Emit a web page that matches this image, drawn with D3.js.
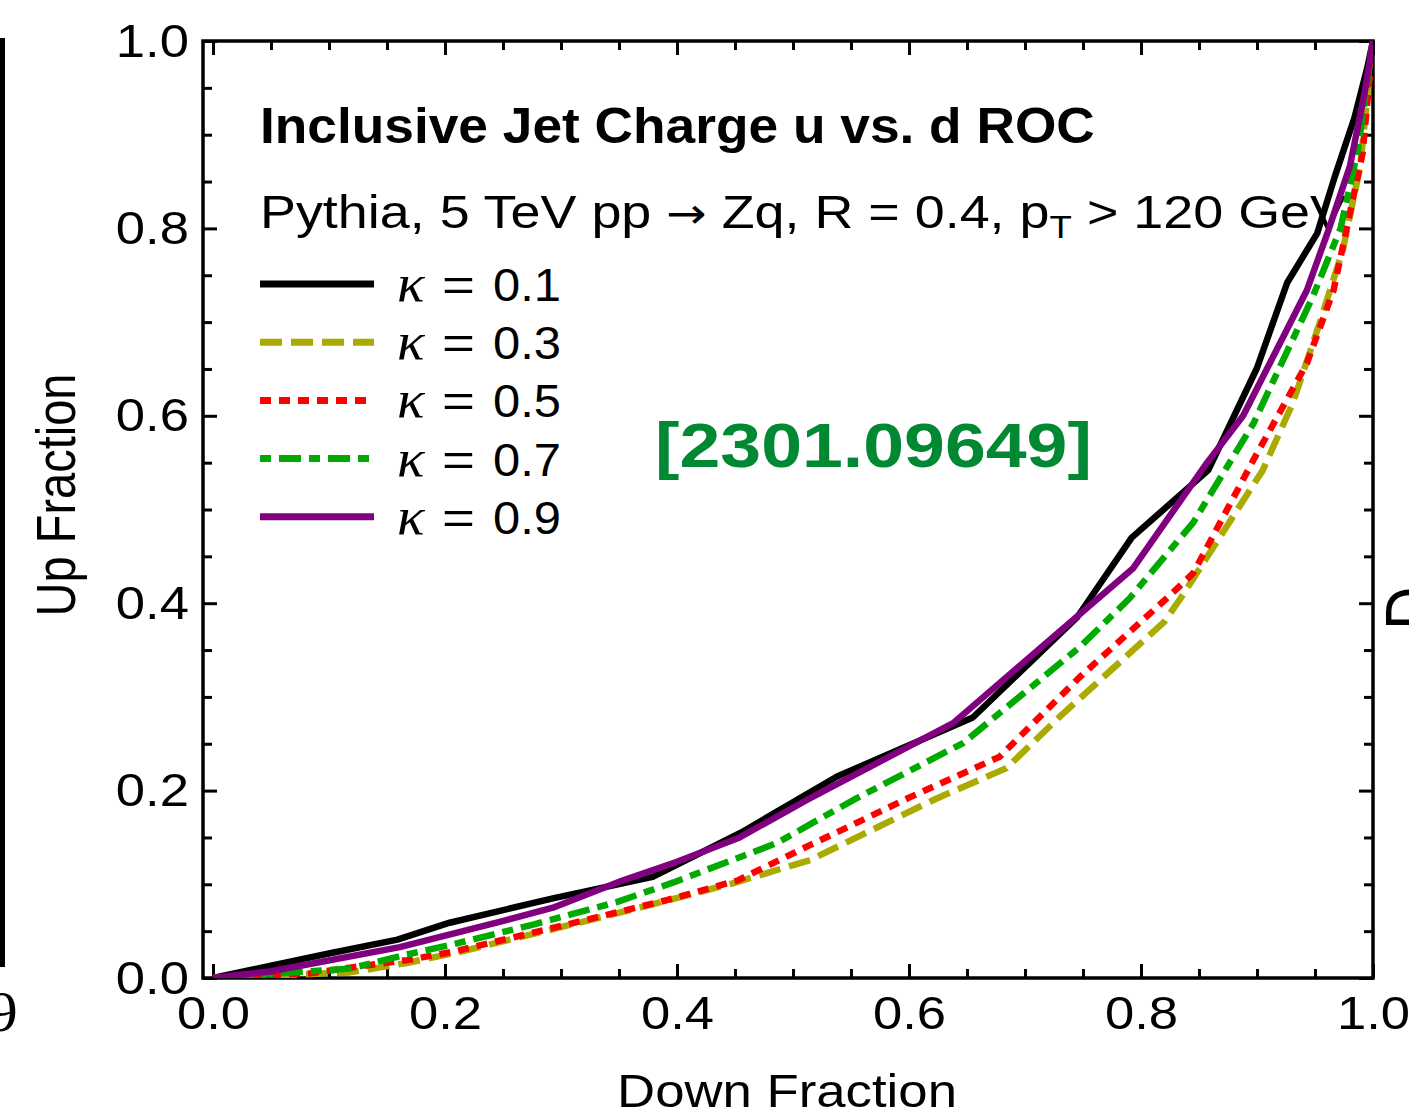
<!DOCTYPE html>
<html>
<head>
<meta charset="utf-8">
<script src="https://cdn.jsdelivr.net/npm/d3@7"></script>
<style>
  html, body { margin: 0; padding: 0; background: #fff; }
  svg { display: block; }
</style>
</head>
<body>
<svg id="chart" width="1409" height="1120"></svg>
<script>
// ---------------- data ----------------
const seriesLabels = ["0.1", "0.3", "0.5", "0.7", "0.9"];

const k01Down = [0, 0.049, 0.103, 0.159, 0.204, 0.293, 0.379, 0.455, 0.538, 0.655, 0.745, 0.792, 0.858, 0.900, 0.926, 0.952, 0.967, 0.984, 0.995, 1];
const k01Up   = [0, 0.013, 0.027, 0.041, 0.059, 0.085, 0.108, 0.155, 0.215, 0.278, 0.385, 0.470, 0.542, 0.651, 0.742, 0.795, 0.855, 0.918, 0.971, 1];

const k03Down = [0, 0.118, 0.167, 0.213, 0.299, 0.377, 0.448, 0.515, 0.621, 0.684, 0.730, 0.820, 0.834, 0.905, 0.931, 0.954, 0.974, 0.989, 1];
const k03Up   = [0, 0.006, 0.016, 0.028, 0.054, 0.078, 0.101, 0.126, 0.190, 0.224, 0.279, 0.380, 0.405, 0.542, 0.614, 0.699, 0.777, 0.866, 1];

const k05Down = [0, 0.084, 0.118, 0.167, 0.207, 0.305, 0.391, 0.452, 0.515, 0.601, 0.678, 0.747, 0.822, 0.845, 0.897, 0.943, 0.966, 0.991, 1];
const k05Up   = [0, 0.005, 0.011, 0.019, 0.028, 0.057, 0.083, 0.104, 0.142, 0.193, 0.236, 0.321, 0.405, 0.432, 0.553, 0.656, 0.734, 0.880, 1];

const k07Down = [0, 0.118, 0.167, 0.207, 0.276, 0.348, 0.397, 0.486, 0.555, 0.647, 0.747, 0.790, 0.845, 0.897, 0.948, 0.972, 0.987, 1];
const k07Up   = [0, 0.010, 0.025, 0.036, 0.057, 0.081, 0.102, 0.144, 0.192, 0.251, 0.353, 0.405, 0.486, 0.592, 0.727, 0.800, 0.884, 1];

const k09Down = [0, 0.049, 0.161, 0.247, 0.293, 0.353, 0.400, 0.454, 0.512, 0.638, 0.793, 0.857, 0.888, 0.943, 0.961, 0.980, 0.993, 1];
const k09Up   = [0, 0.007, 0.033, 0.060, 0.075, 0.104, 0.124, 0.150, 0.190, 0.272, 0.437, 0.550, 0.600, 0.734, 0.796, 0.866, 0.946, 1];

const majorTicks = [0, 0.2, 0.4, 0.6, 0.8, 1.0];
const minorTicks = [0.05,0.1,0.15,0.25,0.3,0.35,0.45,0.5,0.55,0.65,0.7,0.75,0.85,0.9,0.95];
const tickLabels = ["0.0", "0.2", "0.4", "0.6", "0.8", "1.0"];

const titleText = "Inclusive Jet Charge u vs. d ROC";
const xLabelText = "Down Fraction";
const yLabelText = "Up Fraction";
const annotationText = "[2301.09649]";

// ---------------- styles ----------------
const colors  = ["#000000", "#aaaa00", "#ff0000", "#00aa00", "#800080"];
const dashes  = [null, "22,9", "11,8", "11,8,22,8", null];
const SX = 1.15;          // horizontal stretch of the reference rendering
const FONT = "'Liberation Sans', Arial, Helvetica, sans-serif";

const svg = d3.select("#chart");
const frame = {left: 203, right: 1373, top: 41, bottom: 978};

const x = d3.scaleLinear().domain([0, 1]).range([213, 1373]);
const y = d3.scaleLinear().domain([0, 1]).range([978, 41]);

// stretched text helper
function sText(parent, px, py, str, size, opts = {}) {
  const g = parent.append("g").attr("transform", `translate(${px},${py})`);
  const t = g.append("text")
    .attr("font-family", opts.family || FONT)
    .attr("font-size", size)
    .attr("font-weight", opts.weight || "normal")
    .attr("font-style", opts.style || "normal")
    .attr("fill", opts.fill || "#000")
    .attr("text-anchor", opts.anchor || "start")
    .text(str);
  let sx = opts.sx || SX;
  if (opts.width) {
    const w = t.node().getComputedTextLength();
    sx = opts.width / w;
  }
  const rot = opts.rotate ? ` rotate(${opts.rotate})` : "";
  g.attr("transform", `translate(${px},${py}) scale(${sx},1)${rot}`);
  return t;
}

// ---------------- remnants of neighbouring panels ----------------
svg.append("line").attr("x1", 2.5).attr("x2", 2.5).attr("y1", 38).attr("y2", 967)
  .attr("stroke", "#000").attr("stroke-width", 5);
sText(svg, -13, 1031, "9", 56, {family: "'Liberation Serif', serif", sx: 1.1});
sText(svg, 1436, 630, "D", 60, {rotate: -90, sx: 1.2});

// ---------------- texts under the curves ----------------
sText(svg, 260, 143, titleText, 50, {weight: "bold", width: 835});

{
  const g = svg.append("g");
  const t = g.append("text").attr("font-family", FONT).attr("font-size", 47).attr("fill", "#000");
  t.append("tspan").text("Pythia, 5 TeV pp ");
  t.append("tspan").attr("font-family", "'DejaVu Sans', sans-serif").attr("font-size", 42).text("\u2192");
  t.append("tspan").text(" Zq, R = 0.4, p");
  t.append("tspan").attr("font-size", 32).attr("dy", 10).text("T");
  t.append("tspan").attr("dy", -10).text(" > 120 GeV");
  const w = t.node().getBBox().width;
  g.attr("transform", `translate(260,228) scale(${1087 / w},1)`);
}

sText(svg, 655, 467, annotationText, 63, {weight: "bold", fill: "#008833", width: 437});

// ---------------- axes ----------------
const axes = svg.append("g");

function styleAxis(g) {
  g.select(".domain").remove();
  g.selectAll("line").attr("stroke", "#000").attr("stroke-width", 3);
  g.selectAll("text").attr("font-family", FONT).attr("font-size", 47).attr("fill", "#000");
}

// bottom
const gb = axes.append("g").attr("transform", `translate(0,${frame.bottom})`)
  .call(d3.axisBottom(x).tickValues(majorTicks).tickSize(-14).tickPadding(18)
        .tickFormat((d, i) => tickLabels[i]));
styleAxis(gb);
gb.selectAll("text").attr("transform", `scale(1.12,1)`);
const gbm = axes.append("g").attr("transform", `translate(0,${frame.bottom})`)
  .call(d3.axisBottom(x).tickValues(minorTicks).tickSize(-9).tickFormat(""));
styleAxis(gbm);

// top
const gt = axes.append("g").attr("transform", `translate(0,${frame.top})`)
  .call(d3.axisTop(x).tickValues(majorTicks).tickSize(-14).tickFormat(""));
styleAxis(gt);
const gtm = axes.append("g").attr("transform", `translate(0,${frame.top})`)
  .call(d3.axisTop(x).tickValues(minorTicks).tickSize(-9).tickFormat(""));
styleAxis(gtm);

// left
const gl = axes.append("g").attr("transform", `translate(${frame.left},0)`)
  .call(d3.axisLeft(y).tickValues(majorTicks).tickSize(-14).tickPadding(14)
        .tickFormat((d, i) => tickLabels[i]));
styleAxis(gl);
gl.selectAll("text").attr("transform", `translate(-14,0) scale(1.12,1) translate(14,0)`);
const glm = axes.append("g").attr("transform", `translate(${frame.left},0)`)
  .call(d3.axisLeft(y).tickValues(minorTicks).tickSize(-9).tickFormat(""));
styleAxis(glm);

// right
const gr = axes.append("g").attr("transform", `translate(${frame.right},0)`)
  .call(d3.axisRight(y).tickValues(majorTicks).tickSize(-14).tickFormat(""));
styleAxis(gr);
const grm = axes.append("g").attr("transform", `translate(${frame.right},0)`)
  .call(d3.axisRight(y).tickValues(minorTicks).tickSize(-9).tickFormat(""));
styleAxis(grm);

// frame
axes.append("rect")
  .attr("x", frame.left).attr("y", frame.top)
  .attr("width", frame.right - frame.left).attr("height", frame.bottom - frame.top)
  .attr("fill", "none").attr("stroke", "#000").attr("stroke-width", 3.5);

// axis titles
sText(svg, 787, 1107, xLabelText, 46, {anchor: "middle", width: 340});
sText(svg, 75, 495, yLabelText, 47, {anchor: "middle", rotate: -90, sx: 1.2});

// ---------------- curves ----------------
const series = [
  [k01Down, k01Up], [k03Down, k03Up], [k05Down, k05Up], [k07Down, k07Up], [k09Down, k09Up]
];
const line = d3.line().x(d => x(d[0])).y(d => y(d[1]));
svg.append("clipPath").attr("id", "clip").append("rect")
  .attr("x", frame.left).attr("y", frame.top - 4)
  .attr("width", frame.right - frame.left).attr("height", frame.bottom - frame.top + 4);
const curves = svg.append("g").attr("clip-path", "url(#clip)");
series.forEach(([xs, ys], i) => {
  const pts = xs.map((v, j) => [v, ys[j]]);
  const p = curves.append("path").datum(pts)
    .attr("d", line)
    .attr("fill", "none")
    .attr("stroke", colors[i])
    .attr("stroke-width", 6.5)
    .attr("stroke-linejoin", "round")
    .attr("stroke-linecap", "butt");
  if (dashes[i]) p.attr("stroke-dasharray", dashes[i]);
});

// ---------------- legend ----------------
const legend = svg.append("g");
const legY0 = 284, legDY = 58.2;
seriesLabels.forEach((lab, i) => {
  const ly = legY0 + i * legDY;
  const l = legend.append("line")
    .attr("x1", 260).attr("x2", 374).attr("y1", ly).attr("y2", ly)
    .attr("stroke", colors[i]).attr("stroke-width", 7);
  if (dashes[i]) l.attr("stroke-dasharray", dashes[i]);
  sText(legend, 397, ly + 17, "\u03BA", 52, {family: "'Liberation Serif', serif", style: "italic", sx: 1.1});
  sText(legend, 442, ly + 17, "=", 46, {width: 33});
  sText(legend, 493, ly + 17, lab, 46, {width: 68});
});
</script>
</body>
</html>
